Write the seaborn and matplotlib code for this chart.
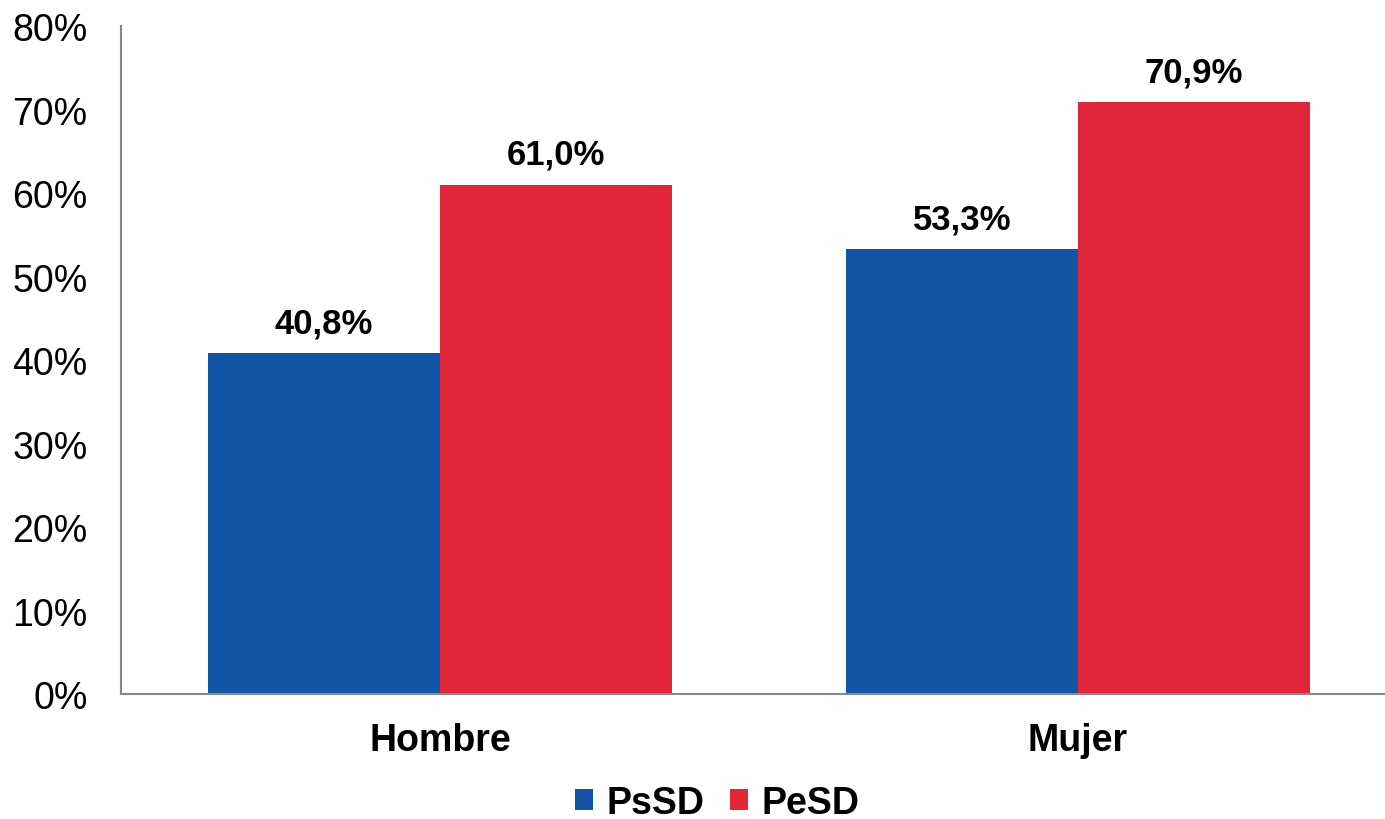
import pandas as pd
import numpy as np
import matplotlib
matplotlib.use("Agg")
import matplotlib.pyplot as plt
import seaborn as sns

# datos
sexo = ["Hombre", "Mujer"]
grupos = ["PsSD", "PeSD"]
psSD = [40.8, 53.3]
peSD = [61.0, 70.9]
colores = ["#1355A5", "#E1263A"]

df = pd.DataFrame({
    "sexo": sexo * 2,
    "grupo": [grupos[0]] * 2 + [grupos[1]] * 2,
    "valor": psSD + peSD,
})

sns.set_style("white")
plt.rcParams["font.family"] = ["Liberation Sans", "DejaVu Sans"]
plt.rcParams["text.color"] = "black"
plt.rcParams["xtick.color"] = "black"
plt.rcParams["ytick.color"] = "black"

fig = plt.figure(figsize=(13.85, 8.2), dpi=100)
ax = fig.add_axes([0.0874, 0.1524, 0.912, 0.8146])

sns.barplot(data=df, x="sexo", y="valor", hue="grupo", hue_order=grupos,
            palette=colores, width=0.728, gap=0, saturation=1,
            edgecolor="none", ax=ax)

# etiquetas de valor
for cont in ax.containers:
    labels = [f"{v:.1f}%".replace(".", ",") for v in cont.datavalues]
    ax.bar_label(cont, labels=labels, padding=10, fontsize=25, fontweight="bold", color="black")

ax.set_ylim(0, 80)
ax.set_xlim(-0.5, 1.48)
ax.set_yticks(np.arange(0, 81, 10))
ax.set_yticklabels([f"{t}%" for t in range(0, 81, 10)], fontsize=27)
ax.tick_params(axis="y", length=0, pad=24)
ax.tick_params(axis="x", length=0, pad=20, labelsize=27)
for t in ax.get_xticklabels():
    t.set_fontweight("bold")
ax.set_xlabel("")
ax.set_ylabel("")

sns.despine(ax=ax)
for s in ["left", "bottom"]:
    ax.spines[s].set_color("#888888")
    ax.spines[s].set_linewidth(1.5)

ax.legend(loc="center", bbox_to_anchor=(0.472, -0.163), ncol=2, frameon=False,
          prop={"size": 27, "weight": "bold"}, handlelength=0.48, handleheight=0.48,
          handletextpad=0.35, columnspacing=0.7)

plt.savefig("out.png", dpi=100)
